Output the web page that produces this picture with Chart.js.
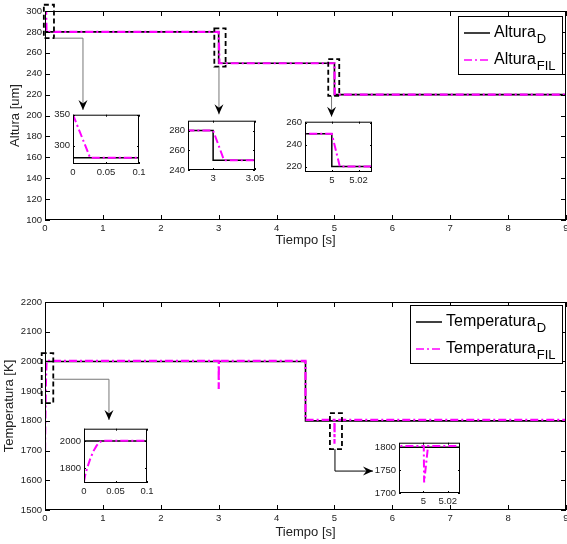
<!DOCTYPE html>
<html>
<head>
<meta charset="utf-8">
<script src="https://cdn.jsdelivr.net/npm/chart.js@4.4.0/dist/chart.umd.min.js"></script>
<style>
body { margin: 0; width: 567px; height: 544px; overflow: hidden; background: #fff; position: relative; }
canvas { position: absolute; }
</style>
</head>
<body>
<canvas id="alturaChart" width="580" height="270" style="left:0;top:0"></canvas>
<canvas id="tempChart" width="580" height="274" style="left:0;top:270px"></canvas>
<script>
const FONT = "'Liberation Sans', Arial, Helvetica, sans-serif";

// values
const tiempoTicks = [0, 1, 2, 3, 4, 5, 6, 7, 8, 9];

const alturaTicks = [100, 120, 140, 160, 180, 200, 220, 240, 260, 280, 300];
const alturaTiempo = [0, 3, 5, 9];
const alturaD = [280, 250, 220, 220];
const alturaFilTiempo = [0, 0.026, 3, 3.013, 5, 5.006, 9];
const alturaFil = [350, 280, 280, 250, 250, 220, 220];

const tempTicks = [1500, 1600, 1700, 1800, 1900, 2000, 2100, 2200];
const tempTiempo = [0, 4.5, 9];
const tempD = [2000, 1800, 1800];
const tempFilTiempo = [0, 0.002, 0.005, 0.01, 0.015, 0.02, 0.025, 0.03, 3, 3.001, 3.004, 4.5, 4.5, 5.0003, 5.0006, 5.0038, 9];
const tempFil = [1700, 1750, 1800, 1870, 1925, 1965, 1992, 2002, 2002, 1907, 2002, 2002, 1803, 1803, 1723, 1803, 1803];

const FIL_DASH = [8, 3, 2, 3];

const fmt = v => String(Math.round(v * 10000) / 10000);

// 'before' in chart.js = hold the value, then jump (horizontal first)
const dSet = (xs, ys, w) => ({
    data: xs.map((x, i) => ({x: x, y: ys[i]})),
    borderColor: '#000', borderWidth: w, stepped: 'before',
    pointRadius: 0, order: 2
});

const filSet = (xs, ys, w) => ({
    data: xs.map((x, i) => ({x: x, y: ys[i]})),
    borderColor: '#ff00ff', borderWidth: w, borderDash: FIL_DASH,
    pointRadius: 0, order: 1
});

const tickFont = {family: FONT, size: 9.5};
const titleFont = {family: FONT, size: 13};

const axisX = (min, max, ticks, size, title, titlePad) => ({
    type: 'linear', min: min, max: max,
    afterBuildTicks: s => { s.ticks = ticks.map(v => ({value: v})); },
    afterFit: s => { s.height = size; },
    grid: {display: false, drawTicks: false},
    border: {display: false},
    ticks: {autoSkip: false, maxRotation: 0, padding: 3, color: '#222', font: tickFont, callback: fmt},
    title: title ? {display: true, text: title, color: '#222', font: titleFont, padding: {top: 0, bottom: titlePad}} : {display: false}
});

const axisY = (min, max, ticks, size, title, titlePad) => ({
    type: 'linear', min: min, max: max,
    afterBuildTicks: s => { s.ticks = ticks.map(v => ({value: v})); },
    afterFit: s => { s.width = size; },
    grid: {display: false, drawTicks: false},
    border: {display: false},
    ticks: {autoSkip: false, padding: 3, color: '#222', font: tickFont, callback: fmt},
    title: title ? {display: true, text: title, color: '#222', font: titleFont, padding: {top: titlePad, bottom: 0}} : {display: false}
});

const drawLegend = (ctx, area, lg) => {
    ctx.font = `16px ${FONT}`;
    const mainW = Math.max(...lg.items.map(it => ctx.measureText(it.text).width));
    ctx.font = `13px ${FONT}`;
    const subW = Math.max(...lg.items.map(it => ctx.measureText(it.sub).width));
    const w = Math.round(36 + mainW + 1 + subW + 6), h = 58;
    const x0 = Math.round(area.right - 4 - w), y0 = Math.round(area.top + lg.dy);
    ctx.fillStyle = '#fff';
    ctx.fillRect(x0, y0, w, h);
    ctx.setLineDash([]);
    ctx.strokeStyle = '#000';
    ctx.lineWidth = 1;
    ctx.strokeRect(x0 + 0.5, y0 + 0.5, w, h);
    ctx.textAlign = 'left';
    ctx.textBaseline = 'alphabetic';
    lg.items.forEach((it, i) => {
        const cy = y0 + 17 + i * 27;
        ctx.strokeStyle = it.color;
        ctx.lineWidth = it.width;
        ctx.setLineDash(it.dash);
        ctx.beginPath();
        ctx.moveTo(x0 + 6, cy);
        ctx.lineTo(x0 + 32, cy);
        ctx.stroke();
        ctx.fillStyle = '#000';
        ctx.font = `16px ${FONT}`;
        ctx.fillText(it.text, x0 + 36, cy + 4);
        const tw = ctx.measureText(it.text).width;
        ctx.font = `13px ${FONT}`;
        ctx.fillText(it.sub, x0 + 36 + tw + 1, cy + 10);
    });
};

// frame with inward ticks, zoom boxes, arrows and legend
const decoPlugin = {
    id: 'deco',
    beforeDatasetsDraw(chart, args, o) {
        if (!o.fill) return;
        const a = chart.chartArea;
        chart.ctx.save();
        chart.ctx.fillStyle = '#fff';
        chart.ctx.fillRect(a.left, a.top, a.width, a.height);
        chart.ctx.restore();
    },
    afterDraw(chart, args, o) {
        const {ctx, chartArea: a, scales: {x, y}} = chart;
        const px = v => x.getPixelForValue(v);
        const py = v => y.getPixelForValue(v);
        const len = o.tick;
        ctx.save();
        ctx.strokeStyle = '#000';
        ctx.lineWidth = 1;
        ctx.beginPath();
        x.ticks.forEach(t => {
            const p = Math.round(px(t.value)) + 0.5;
            ctx.moveTo(p, a.bottom); ctx.lineTo(p, a.bottom - len);
            ctx.moveTo(p, a.top); ctx.lineTo(p, a.top + len);
        });
        y.ticks.forEach(t => {
            const p = Math.round(py(t.value)) + 0.5;
            ctx.moveTo(a.left, p); ctx.lineTo(a.left + len, p);
            ctx.moveTo(a.right, p); ctx.lineTo(a.right - len, p);
        });
        ctx.stroke();
        ctx.strokeRect(a.left + 0.5, a.top + 0.5, a.width - 1, a.height - 1);

        (o.rects || []).forEach(r => {
            ctx.setLineDash([5, 3]);
            ctx.lineWidth = 1.8;
            ctx.strokeStyle = '#000';
            ctx.strokeRect(px(r[0]), py(r[3]), px(r[1]) - px(r[0]), py(r[2]) - py(r[3]));
        });

        (o.arrows || []).forEach(ar => {
            const pts = ar.pts.map(p => [px(p[0]), py(p[1])]);
            ctx.setLineDash([]);
            ctx.lineWidth = 1;
            ctx.strokeStyle = ar.color;
            ctx.beginPath();
            pts.forEach((p, i) => i ? ctx.lineTo(p[0], p[1]) : ctx.moveTo(p[0], p[1]));
            ctx.stroke();
            const [x1, y1] = pts[pts.length - 2];
            const [x2, y2] = pts[pts.length - 1];
            ctx.save();
            ctx.translate(x2, y2);
            ctx.rotate(Math.atan2(y2 - y1, x2 - x1));
            ctx.fillStyle = '#000';
            ctx.beginPath();
            ctx.moveTo(0, 0);
            ctx.lineTo(-10, -4.5);
            ctx.lineTo(-6.5, 0);
            ctx.lineTo(-10, 4.5);
            ctx.closePath();
            ctx.fill();
            ctx.restore();
        });

        if (o.legend) drawLegend(ctx, a, o.legend);
        ctx.restore();
    }
};

const baseOptions = () => ({
    responsive: false,
    animation: false,
    events: [],
    plugins: {legend: {display: false}, tooltip: {enabled: false}}
});

// Altura
const alturaOpts = baseOptions();
alturaOpts.layout = {padding: {top: 11, right: 14, left: 0, bottom: 0}};
alturaOpts.scales = {
    x: axisX(0, 9, tiempoTicks, 50, 'Tiempo [s]', 22),
    y: axisY(100, 300, alturaTicks, 45, 'Altura [um]', 8)
};
alturaOpts.plugins.deco = {
    tick: 5,
    rects: [[-0.02, 0.155, 274, 306], [2.925, 3.12, 246.7, 283.4], [4.893, 5.083, 218.7, 254]],
    arrows: [
        {color: '#777', pts: [[0.155, 274], [0.656, 274], [0.656, 205.3]]},
        {color: '#777', pts: [[3.005, 246.7], [3.005, 201.1]]},
        {color: '#777', pts: [[4.95, 218.7], [4.95, 198.9]]}
    ],
    legend: {dy: 5, items: [
        {text: 'Altura', sub: 'D', color: '#000', width: 1.5, dash: []},
        {text: 'Altura', sub: 'FIL', color: '#ff00ff', width: 1.5, dash: FIL_DASH}
    ]}
};
new Chart(document.getElementById('alturaChart'), {
    type: 'line',
    data: {datasets: [filSet(alturaFilTiempo, alturaFil, 2.2), dSet(alturaTiempo, alturaD, 1.6)]},
    options: alturaOpts,
    plugins: [decoPlugin]
});

// Temperatura
const tempOpts = baseOptions();
tempOpts.layout = {padding: {top: 32, right: 14, left: 0, bottom: 0}};
tempOpts.scales = {
    x: axisX(0, 9, tiempoTicks, 34, 'Tiempo [s]', 4),
    y: axisY(1500, 2200, tempTicks, 45, 'Temperatura [K]', 2)
};
tempOpts.plugins.deco = {
    tick: 5,
    rects: [[-0.057, 0.143, 1860, 2028], [4.922, 5.13, 1705, 1826]],
    arrows: [
        {color: '#777', pts: [[0.143, 1940], [1.105, 1940], [1.105, 1803]]},
        {color: '#000', pts: [[5.009, 1705], [5.009, 1631], [5.665, 1631]]}
    ],
    legend: {dy: 3, items: [
        {text: 'Temperatura', sub: 'D', color: '#000', width: 1.5, dash: []},
        {text: 'Temperatura', sub: 'FIL', color: '#ff00ff', width: 1.5, dash: FIL_DASH}
    ]}
};
new Chart(document.getElementById('tempChart'), {
    type: 'line',
    data: {datasets: [filSet(tempFilTiempo, tempFil, 2.2), dSet(tempTiempo, tempD, 1.6)]},
    options: tempOpts,
    plugins: [decoPlugin]
});

// zoom insets: box = [left, top, width, height] of the plot area on the page
const makeInset = (inset, sets) => {
    const [l, t, w, h] = inset.box;
    const cv = document.createElement('canvas');
    cv.width = w + 46;
    cv.height = h + 23;
    cv.style.left = (l - 30) + 'px';
    cv.style.top = (t - 7) + 'px';
    document.body.appendChild(cv);
    const opts = baseOptions();
    opts.layout = {padding: {top: 7, right: 16, left: 0, bottom: 0}};
    opts.scales = {
        x: axisX(inset.x[0], inset.x[1], inset.xt, 16),
        y: axisY(inset.y[0], inset.y[1], inset.yt, 30)
    };
    opts.plugins.deco = {tick: 2, fill: true};
    new Chart(cv, {type: 'line', data: {datasets: sets()}, options: opts, plugins: [decoPlugin]});
};

const alturaSets = () => [filSet(alturaFilTiempo, alturaFil, 2), dSet(alturaTiempo, alturaD, 1.5)];
const tempSets = () => [filSet(tempFilTiempo, tempFil, 2), dSet(tempTiempo, tempD, 1.5)];

makeInset({box: [73, 113, 66, 51], x: [0, 0.1], y: [270, 350], xt: [0, 0.05, 0.1], yt: [300, 350]}, alturaSets);
makeInset({box: [188, 119, 67, 51], x: [2.97, 3.05], y: [240, 290], xt: [3, 3.05], yt: [240, 260, 280]}, alturaSets);
makeInset({box: [305, 120, 67, 52], x: [4.98, 5.03], y: [215, 261], xt: [5, 5.02], yt: [220, 240, 260]}, alturaSets);
makeInset({box: [84, 427, 63, 56], x: [0, 0.1], y: [1690, 2090], xt: [0, 0.05, 0.1], yt: [1800, 2000]}, tempSets);
makeInset({box: [399, 441, 61, 52], x: [4.98, 5.03], y: [1700, 1810], xt: [5, 5.02], yt: [1700, 1750, 1800]}, tempSets);
</script>
</body>
</html>
